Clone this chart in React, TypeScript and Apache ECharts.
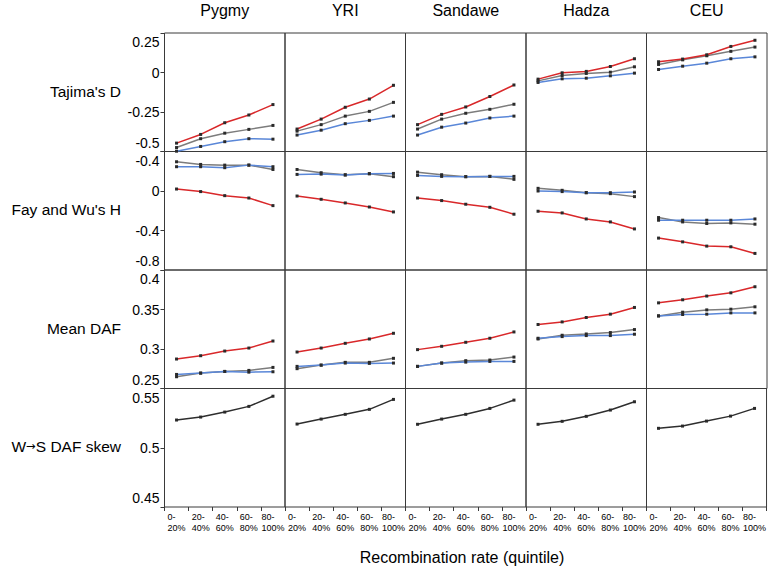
import React, { useEffect, useRef } from "react";
import * as echarts from "echarts";

const categories = ["0-\n20%", "20-\n40%", "40-\n60%", "60-\n80%", "80-\n100%"];
const populations = ["Pygmy", "YRI", "Sandawe", "Hadza", "CEU"];
const statNames = ["Tajima's D", "Fay and Wu's H", "Mean DAF", "W→S DAF skew"];
const xAxisTitle = "Recombination rate (quintile)";

// Tajima's D, one row per population
const tajimaRed = [
  [-0.447, -0.392, -0.318, -0.269, -0.203],
  [-0.358, -0.295, -0.22, -0.168, -0.081],
  [-0.33, -0.265, -0.218, -0.152, -0.079],
  [-0.042, -0.002, 0.007, 0.038, 0.087],
  [0.068, 0.085, 0.112, 0.165, 0.204],
];
const tajimaGray = [
  [-0.475, -0.419, -0.384, -0.36, -0.335],
  [-0.371, -0.33, -0.276, -0.246, -0.189],
  [-0.358, -0.295, -0.258, -0.233, -0.201],
  [-0.053, -0.019, -0.006, 0.002, 0.036],
  [0.051, 0.08, 0.106, 0.134, 0.161],
];
const tajimaBlue = [
  [-0.498, -0.468, -0.438, -0.419, -0.422],
  [-0.396, -0.365, -0.324, -0.303, -0.276],
  [-0.396, -0.346, -0.32, -0.288, -0.276],
  [-0.063, -0.04, -0.036, -0.021, -0.004],
  [0.019, 0.04, 0.059, 0.087, 0.099],
];

// Fay and Wu's H
const fayRed = [
  [0.02, -0.006, -0.047, -0.071, -0.148],
  [-0.051, -0.084, -0.121, -0.162, -0.212],
  [-0.071, -0.097, -0.134, -0.165, -0.235],
  [-0.205, -0.222, -0.283, -0.313, -0.384],
  [-0.477, -0.515, -0.558, -0.565, -0.632],
];
const fayGray = [
  [0.296, 0.269, 0.262, 0.262, 0.218],
  [0.218, 0.185, 0.165, 0.175, 0.145],
  [0.191, 0.165, 0.145, 0.148, 0.118],
  [0.027, 0.007, -0.017, -0.027, -0.057],
  [-0.269, -0.313, -0.329, -0.323, -0.336],
];
const fayBlue = [
  [0.246, 0.246, 0.236, 0.262, 0.246],
  [0.168, 0.171, 0.161, 0.175, 0.178],
  [0.158, 0.148, 0.145, 0.148, 0.148],
  [0.0, -0.006, -0.017, -0.017, -0.01],
  [-0.296, -0.296, -0.296, -0.296, -0.283],
];

// Mean DAF
const dafRed = [
  [0.2873, 0.2915, 0.2974, 0.3012, 0.3101],
  [0.2962, 0.3012, 0.3072, 0.3127, 0.3199],
  [0.2992, 0.3034, 0.3085, 0.3136, 0.3216],
  [0.331, 0.3343, 0.3399, 0.3441, 0.3526],
  [0.3584, 0.3623, 0.367, 0.3711, 0.3788],
];
const dafGray = [
  [0.2649, 0.2695, 0.2716, 0.2729, 0.2767],
  [0.2751, 0.2796, 0.2831, 0.2831, 0.2882],
  [0.278, 0.2822, 0.2852, 0.286, 0.2898],
  [0.3127, 0.3174, 0.319, 0.3208, 0.3246],
  [0.3419, 0.3466, 0.3495, 0.3504, 0.3534],
];
const dafBlue = [
  [0.2678, 0.2695, 0.2716, 0.2707, 0.2712],
  [0.278, 0.2796, 0.2822, 0.2818, 0.2822],
  [0.278, 0.2822, 0.2834, 0.2843, 0.2843],
  [0.3136, 0.3157, 0.317, 0.317, 0.3187],
  [0.3419, 0.3437, 0.3441, 0.3457, 0.3457],
];

// W→S DAF skew
const skewBlack = [
  [0.5234, 0.5259, 0.5301, 0.5349, 0.5435],
  [0.52, 0.5242, 0.5282, 0.5324, 0.5408],
  [0.5198, 0.5242, 0.5282, 0.5332, 0.5402],
  [0.5198, 0.5223, 0.5265, 0.5318, 0.5388],
  [0.5164, 0.5183, 0.5225, 0.5267, 0.5332],
];

// y-axis tick labels (bottom to top) and ranges
const tajimaTicks = ["-0.5", "-0.25", "0", "0.25"];
const fayTicks = ["-0.8", "-0.4", "0", "-0.4"];
const dafTicks = ["0.25", "0.3", "0.35", "0.4"];
const skewTicks = ["0.45", "0.5", "0.55"];
const tajimaRange = [-0.5, 0.25, 0.25];
const fayRange = [-0.8, 0.4, 0.4];
const dafRange = [0.25, 0.4, 0.05];
const skewRange = [0.45, 0.55, 0.05];

const FONT = "'Liberation Sans', Arial, Helvetica, sans-serif";
const RED = "#d9282a";
const GRAY = "#7c7c7c";
const BLUE = "#5a87d8";
const BLACK = "#2e2e2e";
const MARK = "#2a2a2a";

const LEFT = 164.5;
const TOP = 33;
const CW = 120.5;
const RH = 118.5;

export default function App() {
  const ref = useRef<HTMLDivElement>(null);

  useEffect(() => {
    if (!ref.current) return;
    const chart = echarts.init(ref.current, undefined, { renderer: "svg" });

    const rows = [
      { series: [tajimaGray, tajimaBlue, tajimaRed], colors: [GRAY, BLUE, RED], ticks: tajimaTicks, range: tajimaRange },
      { series: [fayGray, fayBlue, fayRed], colors: [GRAY, BLUE, RED], ticks: fayTicks, range: fayRange },
      { series: [dafGray, dafBlue, dafRed], colors: [GRAY, BLUE, RED], ticks: dafTicks, range: dafRange },
      { series: [skewBlack], colors: [BLACK], ticks: skewTicks, range: skewRange },
    ];

    const grids: any[] = [];
    const xAxes: any[] = [];
    const yAxes: any[] = [];
    const series: any[] = [];

    rows.forEach((row, r) => {
      populations.forEach((pop, c) => {
        const idx = r * 5 + c;
        grids.push({
          left: LEFT + c * CW,
          top: TOP + r * RH,
          width: CW,
          height: RH,
          show: true,
          borderColor: "#3a3a3a",
          borderWidth: 1,
          backgroundColor: "transparent",
        });
        const bottomRow = r === rows.length - 1;
        xAxes.push({
          type: "category",
          gridIndex: idx,
          data: categories,
          boundaryGap: true,
          axisLine: { show: false },
          axisTick: {
            show: bottomRow,
            length: 4,
            inside: false,
            lineStyle: { color: "#3a3a3a", width: 1 },
          },
          splitLine: { show: false },
          axisLabel: {
            show: bottomRow,
            interval: 0,
            margin: 4,
            formatter: (v: string) => `{a|${v}}`,
            rich: {
              a: {
                fontSize: 9,
                lineHeight: 11,
                align: "left",
                color: "#000",
                fontFamily: FONT,
              },
            },
          },
        });
        const firstCol = c === 0;
        const last = row.ticks.length - 1;
        yAxes.push({
          type: "value",
          gridIndex: idx,
          min: row.range[0],
          max: row.range[1],
          interval: row.range[2],
          axisLine: { show: false },
          splitLine: { show: false },
          axisTick: {
            show: firstCol,
            length: 4,
            lineStyle: { color: "#3a3a3a", width: 1 },
          },
          axisLabel: {
            show: firstCol,
            fontSize: 14,
            color: "#000",
            fontFamily: FONT,
            margin: 5,
            verticalAlignMinLabel: "bottom",
            verticalAlignMaxLabel: "top",
            formatter: (_v: number, i: number) => {
              const t = row.ticks[i] ?? "";
              if (i === 0 || i === last) return `{e|${t}}`;
              return t;
            },
            rich: {
              e: { fontSize: 14, lineHeight: 18, color: "#000", fontFamily: FONT },
            },
          },
        });
        row.series.forEach((arr, k) => {
          series.push({
            type: "line",
            xAxisIndex: idx,
            yAxisIndex: idx,
            data: arr[c],
            symbol: "rect",
            symbolSize: 3,
            showSymbol: true,
            lineStyle: { color: row.colors[k], width: 1.5 },
            itemStyle: { color: MARK },
            emphasis: { disabled: true },
            silent: true,
            z: 2 + k,
          });
        });
      });
    });

    const graphics: any[] = [];
    populations.forEach((p, c) => {
      graphics.push({
        type: "text",
        x: LEFT + c * CW + CW / 2,
        y: 10,
        style: {
          text: p,
          fontSize: 16,
          fontFamily: FONT,
          fill: "#000",
          align: "center",
          verticalAlign: "middle",
        },
      });
    });
    statNames.forEach((s, r) => {
      const hasArrow = s.indexOf("→") >= 0;
      const txt = hasArrow ? s.split("→").join("{arr|→}") : s;
      graphics.push({
        type: "text",
        x: 121,
        y: TOP + r * RH + RH / 2 - 1,
        style: {
          text: txt,
          fontSize: 15.5,
          fontFamily: FONT,
          fill: "#000",
          align: "right",
          verticalAlign: "middle",
          rich: {
            arr: {
              fontSize: 11.5,
              fontFamily: "'DejaVu Sans', sans-serif",
              fill: "#000",
              padding: [0, 0, 1, 0],
            },
          },
        },
      });
    });
    graphics.push({
      type: "text",
      x: 462,
      y: 557,
      style: {
        text: xAxisTitle,
        fontSize: 16,
        fontFamily: FONT,
        fill: "#000",
        align: "center",
        verticalAlign: "middle",
      },
    });

    chart.setOption({
      animation: false,
      backgroundColor: "#fff",
      grid: grids,
      xAxis: xAxes,
      yAxis: yAxes,
      series,
      graphic: graphics,
    });

    return () => chart.dispose();
  }, []);

  return (
    <div
      ref={ref}
      style={{ position: "fixed", left: 0, top: 0, width: 769, height: 567 }}
    />
  );
}
